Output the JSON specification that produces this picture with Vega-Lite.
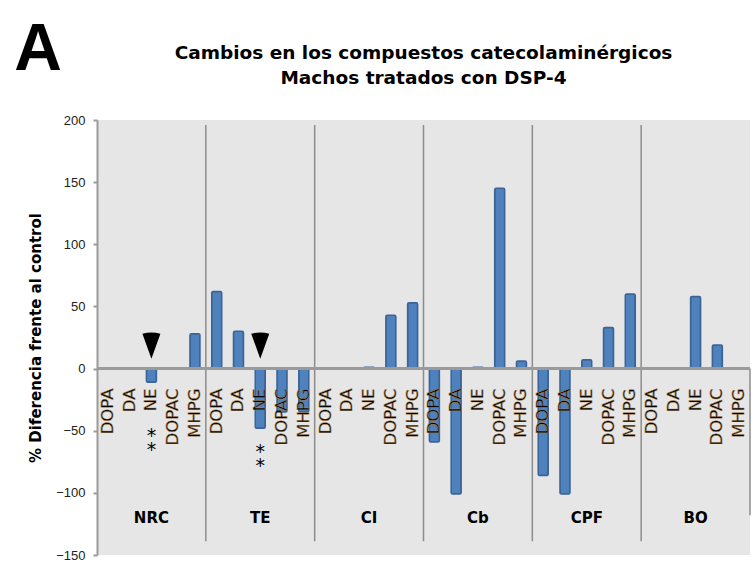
{
  "$schema": "https://vega.github.io/schema/vega-lite/v6.json",
  "width": 653,
  "height": 435,
  "autosize": {"type": "none"},
  "padding": {"left": 97, "top": 120, "right": 3, "bottom": 21},
  "background": "white",
  "title": {
    "text": ["Cambios en los compuestos catecolaminérgicos", "Machos tratados con DSP-4"],
    "anchor": "middle",
    "frame": "group",
    "font": "DejaVu Sans",
    "fontSize": 18.5,
    "fontWeight": "bold",
    "color": "#000000",
    "lineHeight": 25,
    "baseline": "bottom",
    "offset": -89
  },
  "config": {
    "view": {"fill": "#e6e6e6", "stroke": null},
    "font": "DejaVu Sans"
  },
  "datasets": {
    "bars": [
      {"region": "NRC", "compound": "DOPA", "value": 0},
      {"region": "NRC", "compound": "DA", "value": 0},
      {"region": "NRC", "compound": "NE", "value": -11},
      {"region": "NRC", "compound": "DOPAC", "value": 0},
      {"region": "NRC", "compound": "MHPG", "value": 28},
      {"region": "TE", "compound": "DOPA", "value": 62},
      {"region": "TE", "compound": "DA", "value": 30},
      {"region": "TE", "compound": "NE", "value": -48},
      {"region": "TE", "compound": "DOPAC", "value": -35},
      {"region": "TE", "compound": "MHPG", "value": -35},
      {"region": "CI", "compound": "DOPA", "value": 0},
      {"region": "CI", "compound": "DA", "value": 0},
      {"region": "CI", "compound": "NE", "value": 1},
      {"region": "CI", "compound": "DOPAC", "value": 43},
      {"region": "CI", "compound": "MHPG", "value": 53},
      {"region": "Cb", "compound": "DOPA", "value": -59},
      {"region": "Cb", "compound": "DA", "value": -101},
      {"region": "Cb", "compound": "NE", "value": 1},
      {"region": "Cb", "compound": "DOPAC", "value": 145},
      {"region": "Cb", "compound": "MHPG", "value": 6},
      {"region": "CPF", "compound": "DOPA", "value": -86},
      {"region": "CPF", "compound": "DA", "value": -101},
      {"region": "CPF", "compound": "NE", "value": 7},
      {"region": "CPF", "compound": "DOPAC", "value": 33},
      {"region": "CPF", "compound": "MHPG", "value": 60},
      {"region": "BO", "compound": "DOPA", "value": 0},
      {"region": "BO", "compound": "DA", "value": 0},
      {"region": "BO", "compound": "NE", "value": 58},
      {"region": "BO", "compound": "DOPAC", "value": 19},
      {"region": "BO", "compound": "MHPG", "value": 0}
    ],
    "regions": [
      {"region": "NRC"}, {"region": "TE"}, {"region": "CI"},
      {"region": "Cb"}, {"region": "CPF"}, {"region": "BO"}
    ],
    "marks": [
      {"region": "NRC", "compound": "NE", "stars": "*\n*", "arrow": 18, "starpos": -54},
      {"region": "TE", "compound": "NE", "stars": "*\n*", "arrow": 18, "starpos": -67}
    ]
  },
  "encoding": {
    "x": {
      "field": "region",
      "type": "nominal",
      "sort": ["NRC", "TE", "CI", "Cb", "CPF", "BO"],
      "scale": {"domain": ["NRC", "TE", "CI", "Cb", "CPF", "BO"], "paddingInner": 0, "paddingOuter": 0},
      "axis": null
    }
  },
  "layer": [
    {
      "data": {"name": "bars"},
      "mark": {"type": "bar", "fill": "#4f81bd", "stroke": "#3a6496", "strokeWidth": 1.5, "cornerRadius": 1.5},
      "encoding": {
        "xOffset": {"field": "compound", "type": "nominal", "sort": ["DOPA", "DA", "NE", "DOPAC", "MHPG"], "scale": {"domain": ["DOPA", "DA", "NE", "DOPAC", "MHPG"], "paddingInner": 0.54, "paddingOuter": 0.27}},
        "y": {
          "field": "value",
          "type": "quantitative",
          "scale": {"domain": [-150, 200], "nice": false, "zero": false},
          "axis": {
            "title": "% Diferencia frente al control",
            "titleFont": "DejaVu Sans",
            "titleFontSize": 15,
            "titleFontWeight": "bold",
            "titleColor": "#000000",
            "titlePadding": 12,
            "values": [-150, -100, -50, 0, 50, 100, 150, 200],
            "grid": false,
            "domainColor": "#9a9a9a",
            "domainWidth": 2,
            "tickColor": "#9a9a9a",
            "tickWidth": 2,
            "tickSize": 4,
            "labelPadding": 8,
            "labelFont": "Liberation Sans",
            "labelFontSize": 13,
            "labelColor": "#222222"
          }
        }
      }
    },
    {
      "data": {"name": "regions"},
      "transform": [{"filter": "datum.region != 'NRC'"}],
      "mark": {"type": "rule", "color": "#8c8c8c", "strokeWidth": 1.5},
      "encoding": {
        "x": {"field": "region", "type": "nominal", "bandPosition": 0},
        "y": {"datum": 196, "type": "quantitative"},
        "y2": {"datum": -139}
      }
    },
    {
      "data": {"name": "regions"},
      "transform": [{"filter": "datum.region == 'BO'"}],
      "mark": {"type": "rule", "color": "#8c8c8c", "strokeWidth": 1.5},
      "encoding": {
        "x": {"field": "region", "type": "nominal", "bandPosition": 1},
        "y": {"datum": 0, "type": "quantitative"},
        "y2": {"datum": -118}
      }
    },
    {
      "data": {"values": [{"zero": 0}]},
      "mark": {"type": "rule", "color": "#9a9a9a", "strokeWidth": 3},
      "encoding": {
        "x": null,
        "y": {"field": "zero", "type": "quantitative"}
      }
    },
    {
      "data": {"name": "bars"},
      "mark": {"type": "text", "angle": 270, "align": "right", "baseline": "middle", "font": "DejaVu Sans", "fontSize": 16.5, "color": "#000000", "stroke": "#b08a55", "strokeWidth": 0.45},
      "encoding": {
        "xOffset": {"field": "compound", "type": "nominal", "sort": ["DOPA", "DA", "NE", "DOPAC", "MHPG"]},
        "y": {"datum": -16, "type": "quantitative"},
        "text": {"field": "compound"}
      }
    },
    {
      "data": {"name": "regions"},
      "mark": {"type": "text", "align": "center", "baseline": "middle", "font": "DejaVu Sans", "fontSize": 15, "fontWeight": "bold", "color": "#000000"},
      "encoding": {
        "y": {"datum": -120, "type": "quantitative"},
        "text": {"field": "region"}
      }
    },
    {
      "data": {"name": "marks"},
      "mark": {"type": "point", "shape": "M-0.72,-1Q0,-1.2,0.72,-1L0,1Z", "filled": true, "color": "#000000", "opacity": 1, "size": 625},
      "encoding": {
        "xOffset": {"field": "compound", "type": "nominal", "sort": ["DOPA", "DA", "NE", "DOPAC", "MHPG"]},
        "y": {"field": "arrow", "type": "quantitative"}
      }
    },
    {
      "data": {"name": "marks"},
      "mark": {"type": "text", "align": "center", "baseline": "middle", "font": "DejaVu Sans", "fontSize": 19, "lineHeight": 14, "lineBreak": "\n", "color": "#000000"},
      "encoding": {
        "xOffset": {"field": "compound", "type": "nominal", "sort": ["DOPA", "DA", "NE", "DOPAC", "MHPG"]},
        "y": {"field": "starpos", "type": "quantitative"},
        "text": {"field": "stars"}
      }
    },
    {
      "data": {"values": [{"panel": "A"}]},
      "mark": {"type": "text", "align": "center", "baseline": "middle", "font": "Liberation Sans", "fontSize": 66, "fontWeight": "bold", "color": "#000000", "dx": -59},
      "encoding": {
        "x": {"datum": "NRC", "bandPosition": 0},
        "y": {"datum": 256, "type": "quantitative"},
        "text": {"field": "panel"}
      }
    }
  ],
  "resolve": {"scale": {"y": "shared"}}
}
